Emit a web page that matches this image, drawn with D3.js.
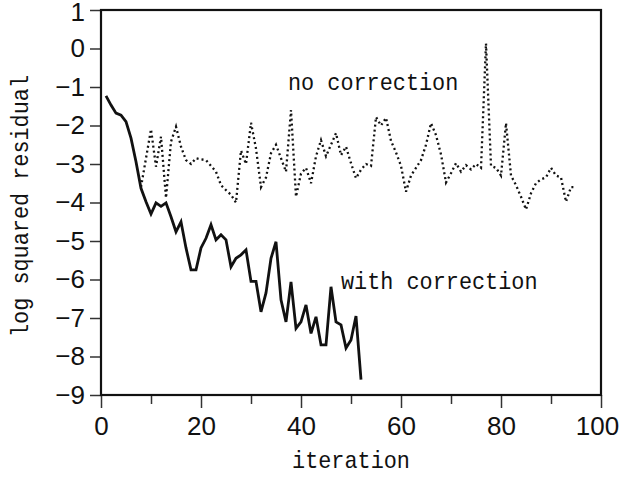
<!DOCTYPE html>
<meta charset="utf-8">
<style>
body { margin: 0; background: #fff; }
.tick text { font-family: "Liberation Sans", Arial, sans-serif; font-size: 26px; fill: #111; }
.label { font-family: "Liberation Mono", "DejaVu Sans Mono", monospace; font-size: 24px; fill: #111; }
</style>
<script src="https://d3js.org/d3.v7.min.js"></script>
<svg width="621" height="480"></svg>
<script>

  // log squared residual per iteration
  var withStart = 1;
  var withCorrection = [-1.23, -1.47, -1.68, -1.73, -1.9, -2.33, -2.94, -3.63, -3.98, -4.30,
    -4.01, -4.1, -4.01, -4.37, -4.76, -4.5, -5.18, -5.75, -5.75, -5.18,
    -4.93, -4.58, -4.97, -4.84, -4.97, -5.67, -5.45, -5.36, -5.23, -6.05,
    -6.05, -6.84, -6.35, -5.45, -5.02, -6.53, -7.1, -6.06, -7.27, -7.1,
    -6.66, -7.4, -6.97, -7.7, -7.7, -6.19, -7.1, -7.18, -7.78, -7.57,
    -6.95, -8.6];

  var noStart = 8;
  var noCorrection = [-3.6, -2.85, -2.1, -3.07, -2.29, -3.88, -2.42, -2.03, -2.55, -2.9,
    -3.0, -2.85, -2.88, -2.9, -3.05, -3.2, -3.55, -3.68, -3.8, -4.0,
    -2.65, -3.0, -1.93, -2.6, -3.6, -3.35, -2.72, -2.5, -2.85, -3.2,
    -1.6, -3.85, -3.25, -3.1, -3.5, -2.8, -2.38, -2.8, -2.5, -2.2,
    -2.77, -2.55, -2.98, -3.37, -3.15, -3.0, -3.05, -1.78, -2.0, -1.8,
    -2.4, -2.7, -3.05, -3.72, -3.3, -3.1, -2.9, -2.5, -1.94, -2.25,
    -2.75, -3.48, -3.24, -2.98, -3.2, -3.03, -3.14, -3.0, -3.1, 0.13,
    -3.05, -3.1, -3.3, -1.94, -3.3, -3.55, -3.85, -4.18, -3.76, -3.5,
    -3.4, -3.35, -3.1, -3.3, -3.35, -3.98, -3.6, -3.6];

  var yTicks = [1, 0, -1, -2, -3, -4, -5, -6, -7, -8, -9];
  var xTicks = [0, 10, 20, 30, 40, 50, 60, 70, 80, 90, 100];
  var xLabels = [0, 20, 40, 60, 80, 100];

  var svg = d3.select("svg");
  var plotL = 101, plotR = 601, plotT = 10, plotB = 395;
  var charW = 13.1; // advance of the half-width label font

  var x = d3.scaleLinear().domain([0, 100]).range([plotL, plotR]);
  var y = d3.scaleLinear().domain([-9, 1]).range([plotB, plotT]);

  var line = d3.line()
      .x(function(d) { return x(d[0]); })
      .y(function(d) { return y(d[1]); });

  var noData = noCorrection.map(function(v, i) { return [noStart + i, v]; });
  var withData = withCorrection.map(function(v, i) { return [withStart + i, v]; });

  svg.append("path")
      .datum(noData)
      .attr("d", line)
      .attr("fill", "none")
      .attr("stroke", "#111")
      .attr("stroke-width", 2.3)
      .attr("stroke-dasharray", "2,3");

  svg.append("path")
      .datum(withData)
      .attr("d", line)
      .attr("fill", "none")
      .attr("stroke", "#111")
      .attr("stroke-width", 2.8)
      .attr("stroke-linejoin", "miter");

  // axes
  var yAxis = svg.append("g")
      .attr("transform", "translate(" + plotL + ",0)")
      .call(d3.axisLeft(y).tickValues(yTicks).tickSize(11).tickPadding(5)
        .tickFormat(function(d) { return d < 0 ? "\u2212" + (-d) : d; }));
  yAxis.select(".domain").remove();
  yAxis.selectAll(".tick line").attr("stroke", "#333").attr("stroke-width", 1.5);
  // keep the top label inside the picture
  yAxis.selectAll(".tick text").filter(function(d) { return d === 1; }).attr("dy", "0.42em");

  var xAxis = svg.append("g")
      .attr("transform", "translate(0," + plotB + ")")
      .call(d3.axisBottom(x).tickValues(xTicks).tickSize(12).tickPadding(10)
        .tickFormat(function(d) { return xLabels.indexOf(d) >= 0 ? d : ""; }));
  xAxis.select(".domain").remove();
  xAxis.selectAll(".tick line")
      .attr("stroke", "#333").attr("stroke-width", 1.5)
      .attr("y2", function(d) { return xLabels.indexOf(d) >= 0 ? 13 : 9; });
  xAxis.selectAll(".tick text").filter(function(d) { return d === 100; }).attr("dx", -4);

  // frame
  svg.append("rect")
      .attr("x", plotL).attr("y", plotT)
      .attr("width", plotR - plotL).attr("height", plotB - plotT)
      .attr("fill", "none")
      .attr("stroke", "#111")
      .attr("stroke-width", 2.2);

  // labels
  function label(txt) {
    return svg.append("text").attr("class", "label")
        .attr("textLength", txt.length * charW)
        .attr("lengthAdjust", "spacingAndGlyphs")
        .text(txt);
  }

  label("iteration")
      .attr("x", (plotL + plotR) / 2).attr("y", 468)
      .attr("text-anchor", "middle");

  label("log squared residual")
      .attr("transform", "translate(28,206) rotate(-90)")
      .attr("text-anchor", "middle");

  label("no correction").attr("x", 288).attr("y", 90);

  label("with correction").attr("x", 341).attr("y", 289);

</script>
